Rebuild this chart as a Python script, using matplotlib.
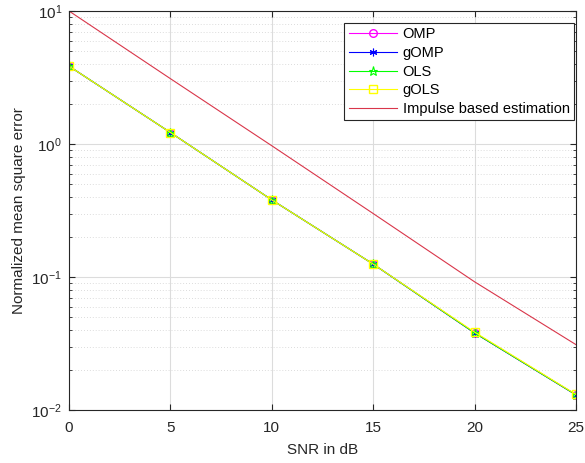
import matplotlib
matplotlib.use("Agg")
import matplotlib.pyplot as plt
from matplotlib.ticker import LogLocator, NullFormatter

plt.rcParams['font.family'] = ['Liberation Sans', 'DejaVu Sans']
plt.rcParams['mathtext.fontset'] = 'custom'
plt.rcParams['mathtext.rm'] = 'Liberation Sans'

snr_db = [0, 5, 10, 15, 20, 25]
nmse_omp = [3.85, 1.22, 0.38, 0.125, 0.038, 0.0130]
nmse_gomp = [3.85, 1.22, 0.38, 0.125, 0.038, 0.0130]
nmse_ols = [3.85, 1.22, 0.38, 0.125, 0.038, 0.0130]
nmse_gols = [3.85, 1.22, 0.38, 0.125, 0.0385, 0.0131]
nmse_impulse = [10.0, 3.1, 0.97, 0.30, 0.092, 0.031]

fig = plt.figure(figsize=(5.85, 4.63), dpi=100)
ax = fig.add_axes([69/585, 1 - 410/463, (576-69)/585, (410-11)/463])

ax.semilogy(snr_db, nmse_omp, color='#ff00ff', marker='o', mfc='none',
            ms=5.5, lw=0.8, label='OMP')
ax.semilogy(snr_db, nmse_gomp, color='#0000ff', marker=(6, 2, 0), ms=5.5,
            mew=0.8, lw=0.8, label='gOMP')
ax.semilogy(snr_db, nmse_ols, color='#00ff00', marker='*', mfc='none',
            ms=6.5, mew=0.8, lw=0.8, label='OLS')
ax.semilogy(snr_db, nmse_gols, color='#ffff00', marker='s', mfc='none',
            ms=5.5, lw=0.8, label='gOLS')
ax.semilogy(snr_db, nmse_impulse, color='#d9364a', lw=0.8,
            label='Impulse based estimation')

ax.set_xlim(0, 25)
ax.set_ylim(1e-2, 1e1)
ax.set_xticks([0, 5, 10, 15, 20, 25])
ax.yaxis.set_major_locator(LogLocator(base=10, numticks=10))
ax.yaxis.set_minor_locator(LogLocator(base=10, subs=range(2, 10), numticks=20))
ax.yaxis.set_minor_formatter(NullFormatter())

ax.grid(True, which='major', color='#dcdcdc', lw=0.8, ls='-')
ax.grid(True, which='minor', axis='y', color='#d0d0d0', lw=0.6, ls=(0, (1, 2.5)))
ax.set_axisbelow(True)

ax.tick_params(which='both', direction='in', top=True, right=True,
               labelsize=11, colors='#262626', length=4)
ax.tick_params(axis='x', pad=8)
ax.tick_params(axis='y', pad=5)
ax.tick_params(which='minor', length=2)
for s in ax.spines.values():
    s.set_color('#262626')
    s.set_linewidth(0.8)

ax.set_xlabel('SNR in dB', fontsize=11, color='#262626', labelpad=6)
ax.set_ylabel('Normalized mean square error', fontsize=11, color='#262626')

leg = ax.legend(loc='upper right', fontsize=10.5, frameon=True, fancybox=False,
                edgecolor='#262626', framealpha=1,
                bbox_to_anchor=(574/585, 1 - 23/463), bbox_transform=fig.transFigure,
                borderaxespad=0, handlelength=3.3, handletextpad=0.4,
                labelspacing=0.32, borderpad=0.3)
leg.get_frame().set_linewidth(0.8)

fig.savefig('out.png', dpi=100)
